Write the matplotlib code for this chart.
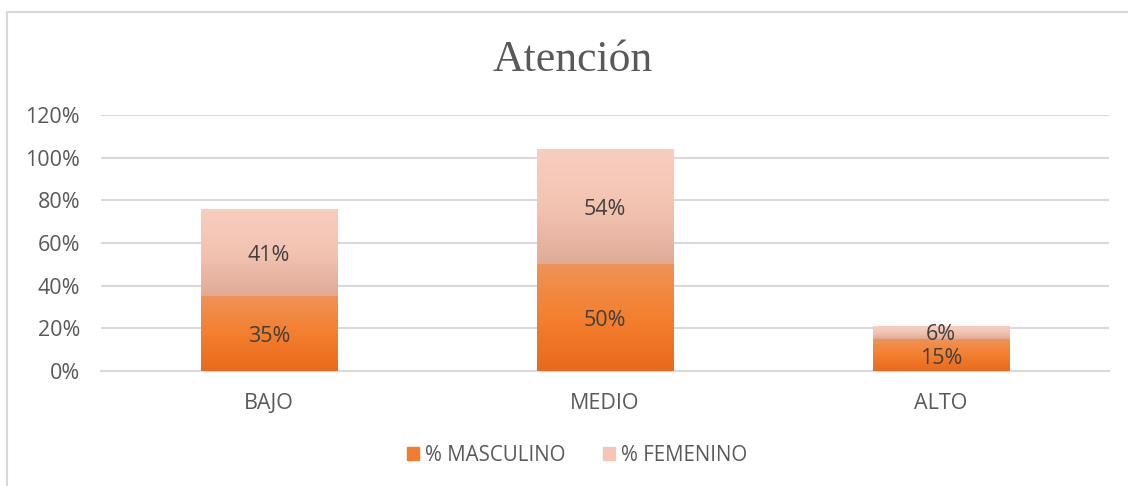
import numpy as np
import matplotlib.pyplot as plt
from matplotlib.patches import Rectangle
from matplotlib.colors import LinearSegmentedColormap

categorias = ["BAJO", "MEDIO", "ALTO"]
masculino = [35, 50, 15]
femenino = [41, 54, 6]
ticks_y = [0, 20, 40, 60, 80, 100, 120]

plt.rcParams['font.family'] = ['Open Sans', 'DejaVu Sans']

fig = plt.figure(figsize=(11.28, 4.86), dpi=100)
ax = fig.add_axes([101 / 1128, 1 - 371 / 486, 1008 / 1128, 256 / 486])

# marco gris del grafico
fig.patches.append(Rectangle((7 / 1128, -0.1), 1.2, 1 - 12 / 486 + 0.1,
                             transform=fig.transFigure, fill=False,
                             edgecolor="#D9D9D9", linewidth=1.5))

cmap_m = LinearSegmentedColormap.from_list("m", ["#E86A1C", "#F47F2E", "#EF9358"])
cmap_f = LinearSegmentedColormap.from_list("f", ["#E0AA98", "#F3C3B2", "#F8CEBF"])

x = np.arange(len(categorias))
ancho = 0.405
grad = np.linspace(0, 1, 256).reshape(-1, 1)

for i in range(len(categorias)):
    b1 = ax.bar(x[i], masculino[i], ancho, color="none", zorder=3)
    b2 = ax.bar(x[i], femenino[i], ancho, bottom=masculino[i], color="none", zorder=3)
    im1 = ax.imshow(grad, cmap=cmap_m, aspect="auto", origin="lower", zorder=3,
                    extent=[x[i] - ancho / 2, x[i] + ancho / 2, 0, masculino[i]])
    im1.set_clip_path(b1[0])
    im2 = ax.imshow(grad, cmap=cmap_f, aspect="auto", origin="lower", zorder=3,
                    extent=[x[i] - ancho / 2, x[i] + ancho / 2, masculino[i],
                            masculino[i] + femenino[i]])
    im2.set_clip_path(b2[0])
    if masculino[i] > 20:
        ym = masculino[i] / 2
        yf = masculino[i] + femenino[i] / 2
    else:
        ym = masculino[i] / 2 - 0.5
        yf = masculino[i] + femenino[i] / 2 + 0.5
    ax.text(x[i], ym, f"{masculino[i]}%", ha="center", va="center_baseline",
            fontsize=15.5, color="#404040", zorder=4)
    ax.text(x[i], yf, f"{femenino[i]}%", ha="center", va="center_baseline",
            fontsize=15.5, color="#404040", zorder=4)

ax.set_xlim(-0.5, 2.5)
ax.set_ylim(0, 120)
ax.set_yticks(ticks_y)
ax.set_yticklabels([f"{t}%" for t in ticks_y])
ax.set_xticks(x)
ax.set_xticklabels(categorias)
ax.tick_params(length=0, labelsize=15.5, labelcolor="#595959")
ax.tick_params(axis="x", pad=16)
ax.tick_params(axis="y", pad=15)
ax.grid(axis="y", color="#D9D9D9", linewidth=1.5, zorder=0)
ax.set_axisbelow(True)
for s in ["top", "right", "left"]:
    ax.spines[s].set_visible(False)
ax.spines["bottom"].set_color("#D9D9D9")
ax.spines["bottom"].set_linewidth(1.5)

fig.text(573 / 1128, 1 - 60 / 486, "Atención", ha="center", va="center",
         fontsize=31.5, family="Liberation Serif", color="#595959")

h1 = Rectangle((0, 0), 1, 1, color="#F07D30")
h2 = Rectangle((0, 0), 1, 1, color="#F5C6B5")
fig.legend([h1, h2], ["% MASCULINO", "% FEMENINO"], loc="center",
           bbox_to_anchor=(577 / 1128, 1 - 455 / 486), ncol=2, frameon=False,
           fontsize=14.8, labelcolor="#595959", handlelength=0.6, handleheight=0.6,
           handletextpad=0.3, columnspacing=1.8)

fig.savefig("out.png", dpi=100)
